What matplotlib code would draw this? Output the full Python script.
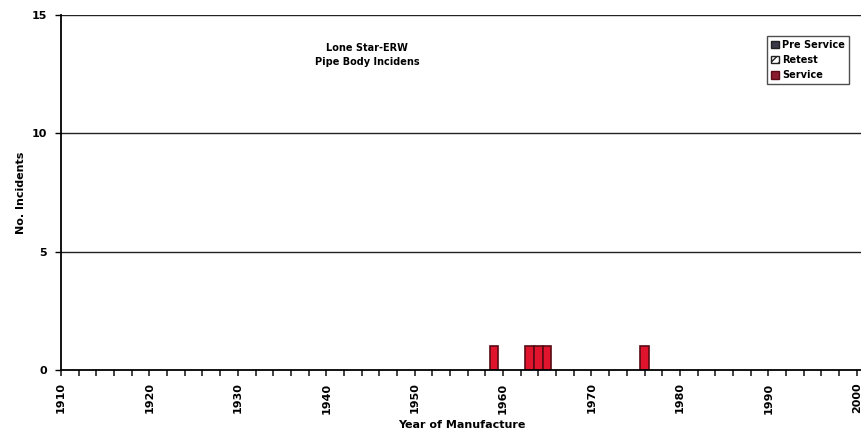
import matplotlib
matplotlib.use("Agg")
import matplotlib.pyplot as plt
from matplotlib.patches import Patch
import numpy as np

# datos
anios = [1959, 1963, 1964, 1965, 1976]
pre_service = [0, 0, 0, 0, 0]
retest = [0, 0, 0, 0, 0]
service = [1, 1, 1, 1, 1]

titulo = "Lone Star-ERW\nPipe Body Incidens"
etiquetas_x = list(range(1910, 2001, 10))
etiquetas_y = [0, 5, 10, 15]

plt.rcParams["font.family"] = ["DejaVu Sans"]

fig = plt.figure(figsize=(8.62, 4.43), dpi=100)
ax = fig.add_axes([0.0708, 0.165, 0.9292, 0.801])

x = np.array(anios)
ax.bar(x, pre_service, width=0.95, color="#3a3a4a", edgecolor="#202020", linewidth=0.8)
ax.bar(x, retest, width=0.95, bottom=pre_service, color="white", edgecolor="#202020",
       hatch="////", linewidth=0.8)
base = np.array(pre_service) + np.array(retest)
ax.bar(x, service, width=0.95, bottom=base, color="#e0142c", edgecolor="#5a0a14", linewidth=1.2)

ax.set_xlim(1910, 2000.6)
ax.set_ylim(0, 15)
ax.set_yticks(etiquetas_y)
ax.set_xticks(etiquetas_x)
ax.set_xticks(range(1910, 2001, 2), minor=True)
ax.set_xticklabels([str(a) for a in etiquetas_x], rotation=90, fontsize=8, fontweight="bold")
ax.set_yticklabels([str(v) for v in etiquetas_y], fontsize=8, fontweight="bold")
ax.tick_params(axis="x", which="both", direction="out", length=4, width=1.2, color="#222222", pad=5)
ax.tick_params(axis="y", direction="out", length=4, width=1.0, pad=6)

for v in etiquetas_y[1:]:
    ax.axhline(v, color="#222222", linewidth=1.0, zorder=0)

for s in ["top", "right"]:
    ax.spines[s].set_visible(False)
ax.spines["left"].set_linewidth(1.3)
ax.spines["bottom"].set_linewidth(1.3)

ax.set_xlabel("Year of Manufacture", fontsize=8, fontweight="bold", labelpad=5)
ax.set_ylabel("No. Incidents", fontsize=8, fontweight="bold", labelpad=4)

ax.text(0.382, 0.92, titulo, transform=ax.transAxes, ha="center", va="top",
        fontsize=7, fontweight="bold", linespacing=1.5)

handles = [
    Patch(facecolor="#3a3a4a", edgecolor="#202020", label="Pre Service"),
    Patch(facecolor="white", edgecolor="#202020", hatch="////", label="Retest"),
    Patch(facecolor="#8a1a2e", edgecolor="#5a0a14", label="Service"),
]
leg = ax.legend(handles=handles, loc="upper right", bbox_to_anchor=(0.99, 0.955),
                prop={"weight": "bold", "size": 7}, frameon=True,
                fancybox=False, edgecolor="#222222", handlelength=0.8, handleheight=0.8,
                handletextpad=0.35, labelspacing=0.55, borderpad=0.4)
leg.get_frame().set_linewidth(1.0)

fig.savefig("out.png", dpi=100)
